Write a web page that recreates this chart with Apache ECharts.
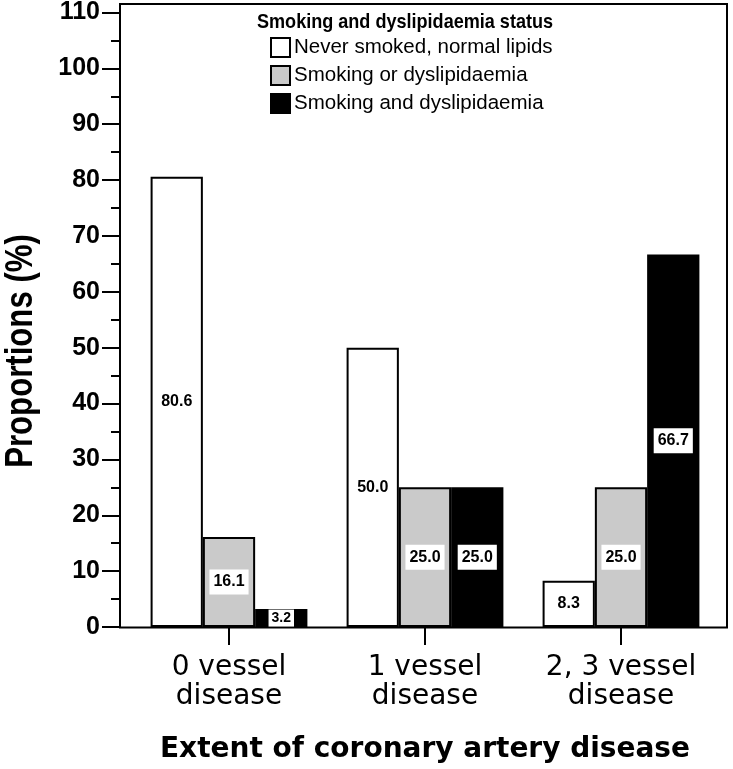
<!DOCTYPE html>
<html>
<head>
<meta charset="utf-8">
<script src="https://cdn.jsdelivr.net/npm/echarts@6/dist/echarts.min.js"></script>
<style>html,body{margin:0;padding:0;background:#fff;}#c{width:733px;height:769px;}</style>
</head>
<body>
<div id="c"></div>
<script>
const categories = ['0 vessel\ndisease', '1 vessel\ndisease', '2, 3 vessel\ndisease'];
const seriesNames = ['Never smoked, normal lipids', 'Smoking or dyslipidaemia', 'Smoking and dyslipidaemia'];
const neverSmokedNormal = [80.6, 50.0, 8.3];
const smokingOrDyslip = [16.1, 25.0, 25.0];
const smokingAndDyslip = [3.2, 25.0, 66.7];
const yMin = 0, yMax = 110, yInterval = 10;
const legendTitle = 'Smoking and dyslipidaemia status';
const yTitle = 'Proportions (%)';
const xTitle = 'Extent of coronary artery disease';

const SANS = '"Liberation Sans", Arial, sans-serif';
const WIDE = '"DejaVu Sans", sans-serif';
const fills = ['#ffffff', '#cacaca', '#000000'];
const values = [neverSmokedNormal, smokingOrDyslip, smokingAndDyslip];

const chart = echarts.init(document.getElementById('c'), null, {renderer: 'canvas'});

const series = seriesNames.map((name, i) => ({
  name: name,
  type: 'bar',
  xAxisIndex: 1,
  yAxisIndex: 1,
  barGap: '0%',
  barCategoryGap: '20%',
  itemStyle: {color: fills[i], borderColor: '#000', borderWidth: 2},
  label: {
    show: true,
    position: 'inside',
    formatter: p => p.value.toFixed(1),
    color: '#000',
    fontFamily: SANS,
    fontWeight: 'bold',
    fontSize: 16,
    backgroundColor: '#fff',
    padding: [5, 4, 4, 4]
  },
  data: values[i].map(v => v < 5 ? {value: v, label: {fontSize: 14, padding: [2, 3, 1, 3]}} : v)
}));

chart.setOption({
  animation: false,
  backgroundColor: '#fff',
  legend: {
    orient: 'vertical',
    left: 270,
    top: 37,
    padding: 0,
    icon: 'rect',
    itemWidth: 19,
    itemHeight: 19,
    itemGap: 7,
    textStyle: {fontFamily: SANS, fontSize: 20.5, color: '#000', padding: [0, 0, 0, -1]},
    data: seriesNames
  },
  grid: [
    {left: 120, right: 6, top: 4, bottom: 141.5, show: true, borderColor: '#000', borderWidth: 2, backgroundColor: 'transparent'},
    {left: 131, right: 14, top: 11.5, bottom: 141.5}
  ],
  xAxis: [
    {type: 'value', gridIndex: 0, show: false, min: 0, max: 1},
    {
      type: 'category', gridIndex: 1, data: categories,
      axisLine: {show: false},
      axisTick: {show: true, alignWithLabel: true, length: 18, lineStyle: {color: '#000', width: 2}},
      axisLabel: {margin: 26, fontFamily: WIDE, fontSize: 28, lineHeight: 29, color: '#000'},
      name: xTitle,
      nameLocation: 'middle',
      nameGap: 109,
      nameTextStyle: {fontFamily: WIDE, fontWeight: 'bold', fontSize: 28, color: '#000'}
    }
  ],
  yAxis: [
    {type: 'value', gridIndex: 0, show: false, min: 0, max: 1},
    {
      type: 'value', gridIndex: 1, min: yMin, max: yMax, interval: yInterval, offset: 11,
      axisLine: {show: false},
      axisTick: {show: true, length: 18, lineStyle: {color: '#000', width: 2}},
      minorTick: {show: true, splitNumber: 2, length: 9, lineStyle: {color: '#000', width: 2}},
      splitLine: {show: false},
      axisLabel: {margin: 20, fontFamily: SANS, fontWeight: 'bold', fontSize: 25, color: '#000'}
    }
  ],
  graphic: [{
    type: 'text',
    x: 22,
    y: 351,
    rotation: Math.PI / 2,
    scaleX: 0.82,
    style: {text: yTitle, fontFamily: SANS, fontWeight: 'bold', fontSize: 38, fill: '#000', align: 'center', verticalAlign: 'middle'}
  }, {
    type: 'text',
    x: 257,
    y: 22,
    scaleX: 0.86,
    style: {text: legendTitle, fontFamily: SANS, fontWeight: 'bold', fontSize: 21, fill: '#000', align: 'left', verticalAlign: 'middle'}
  }],
  series: series
});
</script>
</body>
</html>
